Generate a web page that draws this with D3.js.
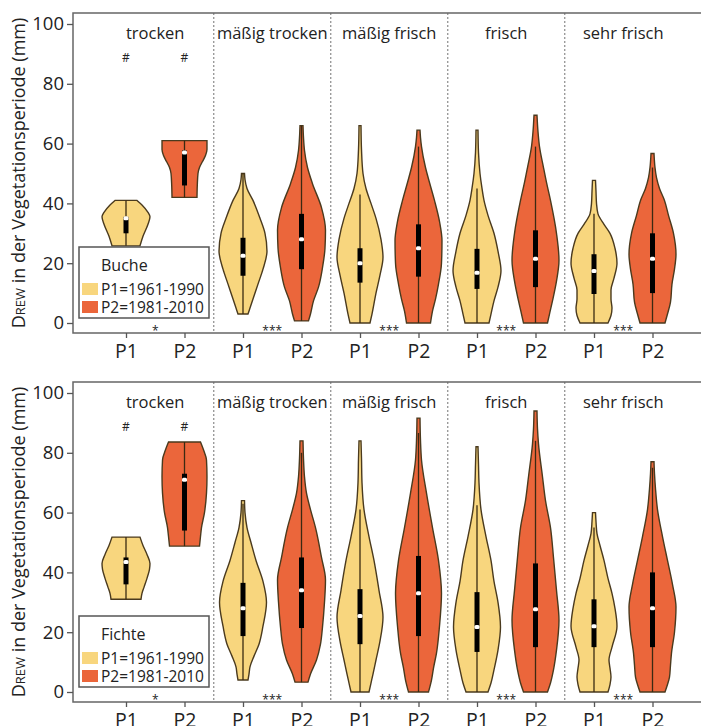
<!DOCTYPE html>
<html>
<head>
<meta charset="utf-8">
<script src="https://cdn.jsdelivr.net/npm/d3@7"></script>
<style>
    body { margin: 0; background: #fff; }
    text { font-family: "Open Sans", sans-serif; fill: #222; }
</style>
</head>
<body>
<svg id="chart" width="701" height="726"></svg>
<script>

// ##################################################
// #  Data                                          #
// ##################################################

const categories = ['trocken', 'mäßig trocken', 'mäßig frisch', 'frisch', 'sehr frisch'];
const periods = ['P1', 'P2'];
const periodLabels = ['P1=1961-1990', 'P2=1981-2010'];
const species = ['Buche', 'Fichte'];
const yTicks = [0, 20, 40, 60, 80, 100];
const topMarks = ['#', '#', '', '', '', '', '', '', '', ''];
const pairMarks = ['*', '***', '***', '***', '***'];

// density profiles per violin: [DREW value, relative density]
const bucheDensity = [
    [[25.8, 14], [29, 17], [33, 22], [35.5, 24], [37, 22], [39.5, 16], [41, 11]],
    [[42, 12.5], [46, 12.8], [50, 13.5], [52, 15], [54, 18], [56, 21], [58, 22.5], [61, 22.5]],
    [[3, 5], [5, 7], [8, 10], [13, 15], [18, 20], [24, 24], [30, 22], [35, 17], [41, 10], [45, 4], [48, 2], [50, 1.5]],
    [[0.7, 7], [3, 9], [7.4, 12], [12, 17], [18.5, 21], [25, 23.5], [31, 24], [38.6, 20], [46.6, 11], [52, 6], [57.7, 3], [62, 2], [66, 1.5]],
    [[0, 10], [3, 12], [10, 16], [16, 20], [22, 23], [28, 21], [35, 16], [40, 11], [45, 6], [50, 3], [58, 1.5], [66, 1]],
    [[0, 12], [4, 14], [8, 17], [13, 20], [20, 23], [27.5, 23.5], [34, 21], [41, 16], [47, 11], [52, 7], [59, 3], [62, 2], [64.5, 1.5]],
    [[0, 12], [3, 14], [7.4, 17], [12, 21], [17.5, 24], [24, 21], [30, 17], [36, 11], [41, 7], [45, 5], [50, 3], [57, 1.5], [64.5, 1]],
    [[0, 12], [3, 14], [7.4, 17], [14, 21], [21, 23.5], [30, 21], [41, 15], [47, 11], [52, 8], [59, 4], [64, 2.5], [69.5, 1.5]],
    [[0, 14], [2.5, 17], [5, 18], [8, 17], [11, 17], [15, 20], [20, 23], [25, 21], [30, 16], [33, 10], [36.5, 4], [40, 2.5], [44, 2], [47.7, 1.5]],
    [[0, 12.5], [3, 15], [7, 18], [13, 19.5], [18, 22], [23, 23.5], [30, 21], [36, 16], [41, 12], [45, 7], [48.6, 4], [52, 2.5], [56.7, 1.5]]
];

// [min, q1, median, q3, max]
const bucheBoxes = [
    [25.8, 30, 35, 35.5, 41],
    [42, 46, 57, 57.7, 61],
    [3, 15.8, 22.5, 28.5, 50],
    [0.7, 18, 28, 36.5, 66],
    [0, 13.5, 20, 25, 43],
    [0, 15.5, 25, 33, 59],
    [0, 11.4, 16.8, 24.8, 45],
    [0, 12, 21.5, 31, 59],
    [0, 9.7, 17.4, 23, 36.5],
    [0, 10, 21.5, 30, 52]
];

const fichteDensity = [
    [[31, 15], [33, 16], [35, 18], [38, 21], [41, 23.5], [43, 24], [46, 21], [49, 17], [51.8, 14]],
    [[48.8, 15], [52, 16], [55, 17], [60, 20], [66.5, 22], [72, 22.5], [77.6, 22], [81, 19], [83.6, 16]],
    [[4, 5], [6, 6], [8.4, 7], [12, 11], [16, 16], [22, 20], [30, 23.5], [37, 20], [44, 13], [50, 8], [55, 4], [60, 2], [64, 1.5]],
    [[3.3, 6.5], [6, 9], [10.7, 15], [16, 19], [21.7, 21], [30, 23], [37.5, 24], [45, 20], [55, 14], [61, 9], [66.5, 5], [72, 3], [78, 2], [84, 1.5]],
    [[0, 9], [3, 11], [6, 13], [10.7, 16], [17, 20], [25, 23], [34, 19], [44, 14], [52, 9], [61, 4], [70, 2], [78, 1.5], [84, 1]],
    [[0, 10], [4, 13], [8, 15], [13, 18], [22, 21], [33, 23], [44, 20], [55, 14], [66.5, 8], [77.6, 3], [84, 2], [91.6, 1.5]],
    [[0, 11], [3, 14], [7.4, 17], [14, 21], [21.7, 23.5], [30, 21], [37, 17], [44, 14], [52, 9], [61, 4], [70, 2], [76, 1.5], [82, 1]],
    [[0, 12], [3, 15], [7.4, 18], [14, 21], [24, 23.5], [34, 21], [45, 18], [55, 15], [64, 10], [72, 7], [83, 3], [88, 2], [94, 1.5]],
    [[0, 14], [2.5, 16], [5, 17], [8, 16], [10.7, 15], [15, 18], [22, 23], [28, 21], [33, 18], [38, 14], [44, 10], [49, 6], [53, 3], [57, 2], [60, 1.5]],
    [[0, 12.5], [2.5, 15], [5, 17], [9, 18], [13, 19], [20, 22], [28.4, 23.5], [36, 20], [44, 15], [52, 10], [61, 5], [68, 3], [73, 2], [77, 1.5]]
];

const fichteBoxes = [
    [31, 36, 43.5, 45, 51.8],
    [48.8, 54, 71, 73, 83.6],
    [4, 18.7, 28, 36.5, 63],
    [3.3, 21.4, 34, 45, 80],
    [0, 16, 25.4, 34.4, 61],
    [0, 18.7, 33, 45.5, 86.6],
    [0, 13.4, 21.7, 33.4, 62.5],
    [0, 15, 27.7, 43, 84],
    [0, 15, 22, 31, 55],
    [0, 15, 28, 40, 75]
];

// ##################################################
// #  Layout                                        #
// ##################################################

const colors = ['#f8d67e', '#eb663b'];
const outline = '#4a3a1e';
const frameLeft = 73;
const frameRight = 701;

const keys = categories.flatMap(c => periods.map(p => c + '|' + p));

const x = d3.scalePoint()
    .domain(keys)
    .range([126, 652.5]);

const densityScale = d3.scaleLinear()
    .domain([0, 24])
    .range([0, x.step() * 0.41]);

const svg = d3.select('#chart');

panel(svg.append('g').attr('transform', 'translate(0,13)'), species[0], bucheDensity, bucheBoxes);
panel(svg.append('g').attr('transform', 'translate(0,382)'), species[1], fichteDensity, fichteBoxes);

// ##################################################
// #  Panel                                         #
// ##################################################

function panel(g, name, density, boxes) {

    const y = d3.scaleLinear()
        .domain([0, 100])
        .range([310, 11]);
    const axisY = 320;

    // dividers between moisture classes
    g.selectAll('.divider')
        .data(categories.slice(1))
        .join('line')
        .attr('class', 'divider')
        .attr('x1', (d, i) => x(keys[i * 2 + 1]) + x.step() / 2)
        .attr('x2', (d, i) => x(keys[i * 2 + 1]) + x.step() / 2)
        .attr('y1', 0)
        .attr('y2', axisY)
        .attr('stroke', '#8a8a8a')
        .attr('stroke-width', 1.2)
        .attr('stroke-dasharray', '2,2');

    // frame
    g.append('path')
        .attr('d', `M${frameRight},0H${frameLeft}V${axisY}H${frameRight}`)
        .attr('fill', 'none')
        .attr('stroke', '#666')
        .attr('stroke-width', 1.5);

    // y axis
    const yAxis = g.append('g')
        .attr('transform', `translate(${frameLeft},0)`)
        .call(d3.axisLeft(y).tickValues(yTicks).tickSize(6).tickPadding(3));
    yAxis.select('.domain').remove();
    yAxis.selectAll('.tick line').attr('stroke', '#555').attr('stroke-width', 1.3);
    yAxis.selectAll('.tick text')
        .attr('font-size', 18.5)
        .attr('font-family', '"Open Sans", sans-serif')
        .attr('fill', '#222');

    // x axis
    const xAxis = g.append('g')
        .attr('transform', `translate(0,${axisY})`)
        .call(d3.axisBottom(x).tickSize(5).tickPadding(6).tickFormat(d => d.split('|')[1]));
    xAxis.select('.domain').remove();
    xAxis.selectAll('.tick line').attr('stroke', '#555').attr('stroke-width', 1.3);
    xAxis.selectAll('.tick text')
        .attr('font-size', 19.5)
        .attr('font-family', '"Open Sans", sans-serif')
        .attr('fill', '#222');

    // y title
    const title = g.append('text')
        .attr('transform', `translate(25,${160}) rotate(-90)`)
        .attr('text-anchor', 'middle')
        .attr('font-size', 18);
    title.append('tspan').text('D');
    title.append('tspan').attr('font-size', 13).text('REW');
    title.append('tspan').text(' in der Vegetationsperiode (mm)');

    // class labels
    g.selectAll('.class-label')
        .data(categories)
        .join('text')
        .attr('class', 'class-label')
        .attr('x', (d, i) => (x(keys[i * 2]) + x(keys[i * 2 + 1])) / 2)
        .attr('y', 26)
        .attr('text-anchor', 'middle')
        .attr('font-size', 16.5)
        .text(d => d);

    // violins
    const violin = g.selectAll('.violin')
        .data(keys)
        .join('g')
        .attr('class', 'violin');

    violin.append('path')
        .attr('d', (k, i) => d3.area()
            .curve(d3.curveMonotoneY)
            .y(d => y(d[0]))
            .x0(d => x(k) - densityScale(d[1]))
            .x1(d => x(k) + densityScale(d[1]))(density[i]))
        .attr('fill', (k, i) => colors[i % 2])
        .attr('stroke', outline)
        .attr('stroke-width', 1.4);

    violin.append('line')
        .attr('x1', k => x(k))
        .attr('x2', k => x(k))
        .attr('y1', (k, i) => y(boxes[i][0]))
        .attr('y2', (k, i) => y(boxes[i][4]))
        .attr('stroke', '#3a2a12')
        .attr('stroke-width', 1.3);

    violin.append('rect')
        .attr('x', k => x(k) - 2.5)
        .attr('width', 5)
        .attr('y', (k, i) => y(boxes[i][3]))
        .attr('height', (k, i) => y(boxes[i][1]) - y(boxes[i][3]))
        .attr('fill', '#000');

    violin.append('rect')
        .attr('x', k => x(k) - 2.5)
        .attr('width', 5)
        .attr('y', (k, i) => y(boxes[i][2]) - 2)
        .attr('height', 4)
        .attr('rx', 1.5)
        .attr('fill', '#fff');

    // significance marks
    g.selectAll('.top-mark')
        .data(keys)
        .join('text')
        .attr('class', 'top-mark')
        .attr('x', k => x(k))
        .attr('y', 49)
        .attr('text-anchor', 'middle')
        .attr('font-size', 12)
        .attr('fill', '#333')
        .text((k, i) => topMarks[i]);

    g.selectAll('.pair-mark')
        .data(pairMarks)
        .join('text')
        .attr('class', 'pair-mark')
        .attr('x', (d, i) => (x(keys[i * 2]) + x(keys[i * 2 + 1])) / 2)
        .attr('y', axisY + 2)
        .attr('text-anchor', 'middle')
        .attr('font-size', 12)
        .attr('fill', '#555')
        .text(d => d);

    // legend
    const legend = g.append('g')
        .attr('transform', 'translate(79,234)');
    legend.append('rect')
        .attr('width', 130)
        .attr('height', 71)
        .attr('fill', '#fff')
        .attr('stroke', '#555')
        .attr('stroke-width', 1.5);
    legend.append('text')
        .attr('x', 22)
        .attr('y', 24)
        .attr('font-size', 16)
        .text(name);
    const item = legend.selectAll('.item')
        .data(periodLabels)
        .join('g')
        .attr('class', 'item')
        .attr('transform', (d, i) => `translate(0,${36 + i * 18})`);
    item.append('rect')
        .attr('x', 3)
        .attr('width', 16)
        .attr('height', 12)
        .attr('fill', (d, i) => colors[i]);
    item.append('text')
        .attr('x', 22)
        .attr('y', 12)
        .attr('font-size', 15.5)
        .text(d => d);
}

</script>
</body>
</html>
